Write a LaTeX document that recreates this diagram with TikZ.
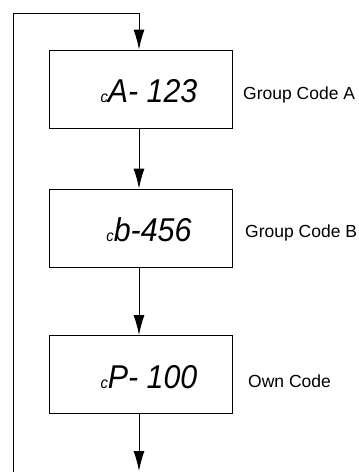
\documentclass[tikz,border=0pt]{standalone}
\usepackage{fontspec}
\setmainfont{Liberation Sans}
\usetikzlibrary{positioning}
\usetikzlibrary{calc}
\usetikzlibrary{arrows.meta}

\begin{document}
\begin{tikzpicture}[x=1pt, y=-1pt,
  dispbox/.style={draw, line width=0.9pt, minimum width=183pt, minimum height=78pt, inner sep=0pt},
  lcd/.style={font=\fontsize{33}{33}\selectfont\itshape, xscale=0.92},
  codelabel/.style={font=\fontsize{17.5}{18}\selectfont, anchor=west, inner sep=0pt},
  flow/.style={line width=1pt, -{Latex[length=20pt, width=11pt]}}]

%---------------------------------------
% Sizes
%---------------------------------------
\def\Xmid{139}
\def\Xloop{13}
\def\Ytop{13}

\useasboundingbox (0,0) rectangle (359,472);

%====================================================
% Display boxes
%====================================================
\node[dispbox] (cA) at (140.5,89) {};
\node[lcd] (cAtxt) at (149,91) {{\fontsize{16}{16}\selectfont c}A- 123};
\node[codelabel] (cAlab) at (243,95) {Group Code A};

\node[dispbox] (cB) at (140.5,228) {};
\node[lcd] (cBtxt) at (149,230) {{\fontsize{16}{16}\selectfont c}b-456};
\node[codelabel] (cBlab) at (245,233) {Group Code B};

\node[dispbox] (cP) at (140.5,374.5) {};
\node[lcd] (cPtxt) at (149,377) {{\fontsize{16}{16}\selectfont c}P- 100};
\node[codelabel] (cPlab) at (248,381) {Own Code};

%====================================================
% Connectors
%====================================================
\coordinate (loopbot) at (\Xloop,472);
\coordinate (looptop) at (\Xmid,\Ytop);
\coordinate (exit) at (\Xmid,471);

% loop back to the first code
\draw[flow] (loopbot) |- (looptop) -- (cA.north -| looptop);

% step through the codes
\draw[flow] (cA.south -| looptop) -- (cB.north -| looptop);
\draw[flow] (cB.south -| looptop) -- (cP.north -| looptop);
\draw[flow] (cP.south -| looptop) -- (exit);

\end{tikzpicture}
\end{document}
